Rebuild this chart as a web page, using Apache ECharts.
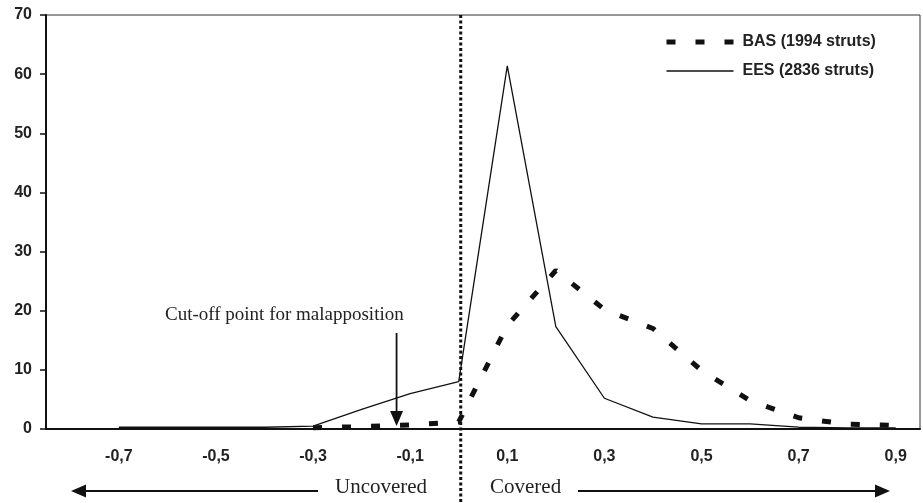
<!DOCTYPE html>
<html>
<head>
<meta charset="utf-8">
<script src="https://cdn.jsdelivr.net/npm/echarts@6/dist/echarts.min.js"></script>
<style>
  html, body { margin: 0; padding: 0; background: #fff; }
  #main { width: 923px; height: 503px; }
</style>
</head>
<body>
<div id="main"></div>
<script>
// distance categories (mm), comma decimals as in the source
var categories = ["-0,8", "-0,7", "-0,6", "-0,5", "-0,4", "-0,3", "-0,2", "-0,1", "0",
                  "0,1", "0,2", "0,3", "0,4", "0,5", "0,6", "0,7", "0,8", "0,9"];
// percentage of struts
var basValues = [null, null, null, null, null, 0.2, 0.4, 0.7, 1.2,
                 17.5, 26.8, 20.2, 17.0, 9.9, 4.8, 1.9, 0.8, 0.6];
var eesValues = [null, 0.3, 0.3, 0.3, 0.3, 0.5, 3.3, 6.0, 8.0,
                 61.4, 17.3, 5.2, 2.0, 0.85, 0.85, 0.3, 0.2, 0.2];
var yTicks = { min: 0, max: 70, step: 10 };

var labelFont = "Liberation Sans";
var noteFont = "Liberation Serif";

var myChart = echarts.init(document.getElementById("main"));

var option = {
  animation: false,
  backgroundColor: "#fff",
  grid: {
    left: 46, right: 3, top: 15, bottom: 74,
    show: true, borderColor: "#333", borderWidth: 1
  },
  legend: {
    orient: "vertical",
    left: 664, top: 34,
    padding: 0,
    itemWidth: 67, itemHeight: 16, itemGap: 13,
    itemStyle: { opacity: 0 },
    textStyle: { fontFamily: labelFont, fontWeight: "bold", fontSize: 16, color: "#222", padding: [0, 0, 0, 4] },
    data: [
      { name: "BAS (1994 struts)", lineStyle: { width: 5, type: [9, 20], cap: "butt" } },
      { name: "EES (2836 struts)", lineStyle: { width: 1.5 } }
    ]
  },
  xAxis: {
    type: "category",
    data: categories,
    boundaryGap: true,
    axisLine: { lineStyle: { color: "#111", width: 2 } },
    axisTick: { interval: 0, length: 7, lineStyle: { color: "#111", width: 1.5 } },
    axisLabel: {
      interval: function (index) { return index % 2 === 1; },
      margin: 20,
      fontFamily: labelFont, fontWeight: "bold", fontSize: 16, color: "#222"
    },
    splitLine: { show: false }
  },
  yAxis: {
    type: "value",
    min: yTicks.min, max: yTicks.max, interval: yTicks.step,
    axisLine: { show: true, lineStyle: { color: "#111", width: 2 } },
    axisTick: { show: true, length: 6, lineStyle: { color: "#111", width: 1.5 } },
    axisLabel: { margin: 14, fontFamily: labelFont, fontWeight: "bold", fontSize: 16, color: "#222" },
    splitLine: { show: false }
  },
  series: [
    {
      name: "BAS (1994 struts)",
      type: "line",
      data: basValues,
      symbol: "none",
      itemStyle: { color: "#111" },
      lineStyle: { color: "#111", width: 5, type: [9, 20], cap: "butt" },
      z: 3
    },
    {
      name: "EES (2836 struts)",
      type: "line",
      data: eesValues,
      symbol: "none",
      itemStyle: { color: "#111" },
      lineStyle: { color: "#111", width: 1.3 },
      z: 2
    }
  ]
};
myChart.setOption(option);

// annotations placed through the axis scale
var x0 = myChart.convertToPixel({ xAxisIndex: 0 }, "0");
var xm2 = myChart.convertToPixel({ xAxisIndex: 0 }, "-0,2");
var xm1 = myChart.convertToPixel({ xAxisIndex: 0 }, "-0,1");
var yTop = myChart.convertToPixel({ yAxisIndex: 0 }, yTicks.max);
var yZero = myChart.convertToPixel({ yAxisIndex: 0 }, 0);
var xCut = xm2 + 0.72 * (xm1 - xm2);

function arrowHead(tipX, tipY, dir) {
  // dir: 'left', 'right', 'down'
  var L = 15, H = 6.5;
  var pts;
  if (dir === "left") pts = [[tipX, tipY], [tipX + L, tipY - H], [tipX + L, tipY + H]];
  else if (dir === "right") pts = [[tipX, tipY], [tipX - L, tipY - H], [tipX - L, tipY + H]];
  else pts = [[tipX, tipY], [tipX - H, tipY - L], [tipX + H, tipY - L]];
  return { type: "polygon", shape: { points: pts }, style: { fill: "#111" }, z: 10 };
}

var arrowY = 491;
myChart.setOption({
  graphic: [
    {
      type: "line",
      shape: { x1: x0 + 2, y1: yTop, x2: x0 + 2, y2: 503 },
      style: { stroke: "#111", lineWidth: 3, lineDash: [3, 2.5] },
      z: 9
    },
    {
      type: "text", left: 165, top: 306,
      style: { text: "Cut-off point for malapposition", font: "19px " + noteFont, fill: "#222" }
    },
    {
      type: "line",
      shape: { x1: xCut, y1: 333, x2: xCut, y2: yZero - 16 },
      style: { stroke: "#111", lineWidth: 1.8 }, z: 10
    },
    arrowHead(xCut, yZero - 3, "down"),
    {
      type: "line",
      shape: { x1: 80, y1: arrowY, x2: 318, y2: arrowY },
      style: { stroke: "#111", lineWidth: 2 }, z: 10
    },
    arrowHead(71, arrowY, "left"),
    {
      type: "text", left: 335, top: 477,
      style: { text: "Uncovered", font: "21px " + noteFont, fill: "#222" }
    },
    {
      type: "text", left: 490, top: 477,
      style: { text: "Covered", font: "21px " + noteFont, fill: "#222" }
    },
    {
      type: "line",
      shape: { x1: 578, y1: arrowY, x2: 880, y2: arrowY },
      style: { stroke: "#111", lineWidth: 2 }, z: 10
    },
    arrowHead(890, arrowY, "right")
  ]
});
</script>
</body>
</html>
